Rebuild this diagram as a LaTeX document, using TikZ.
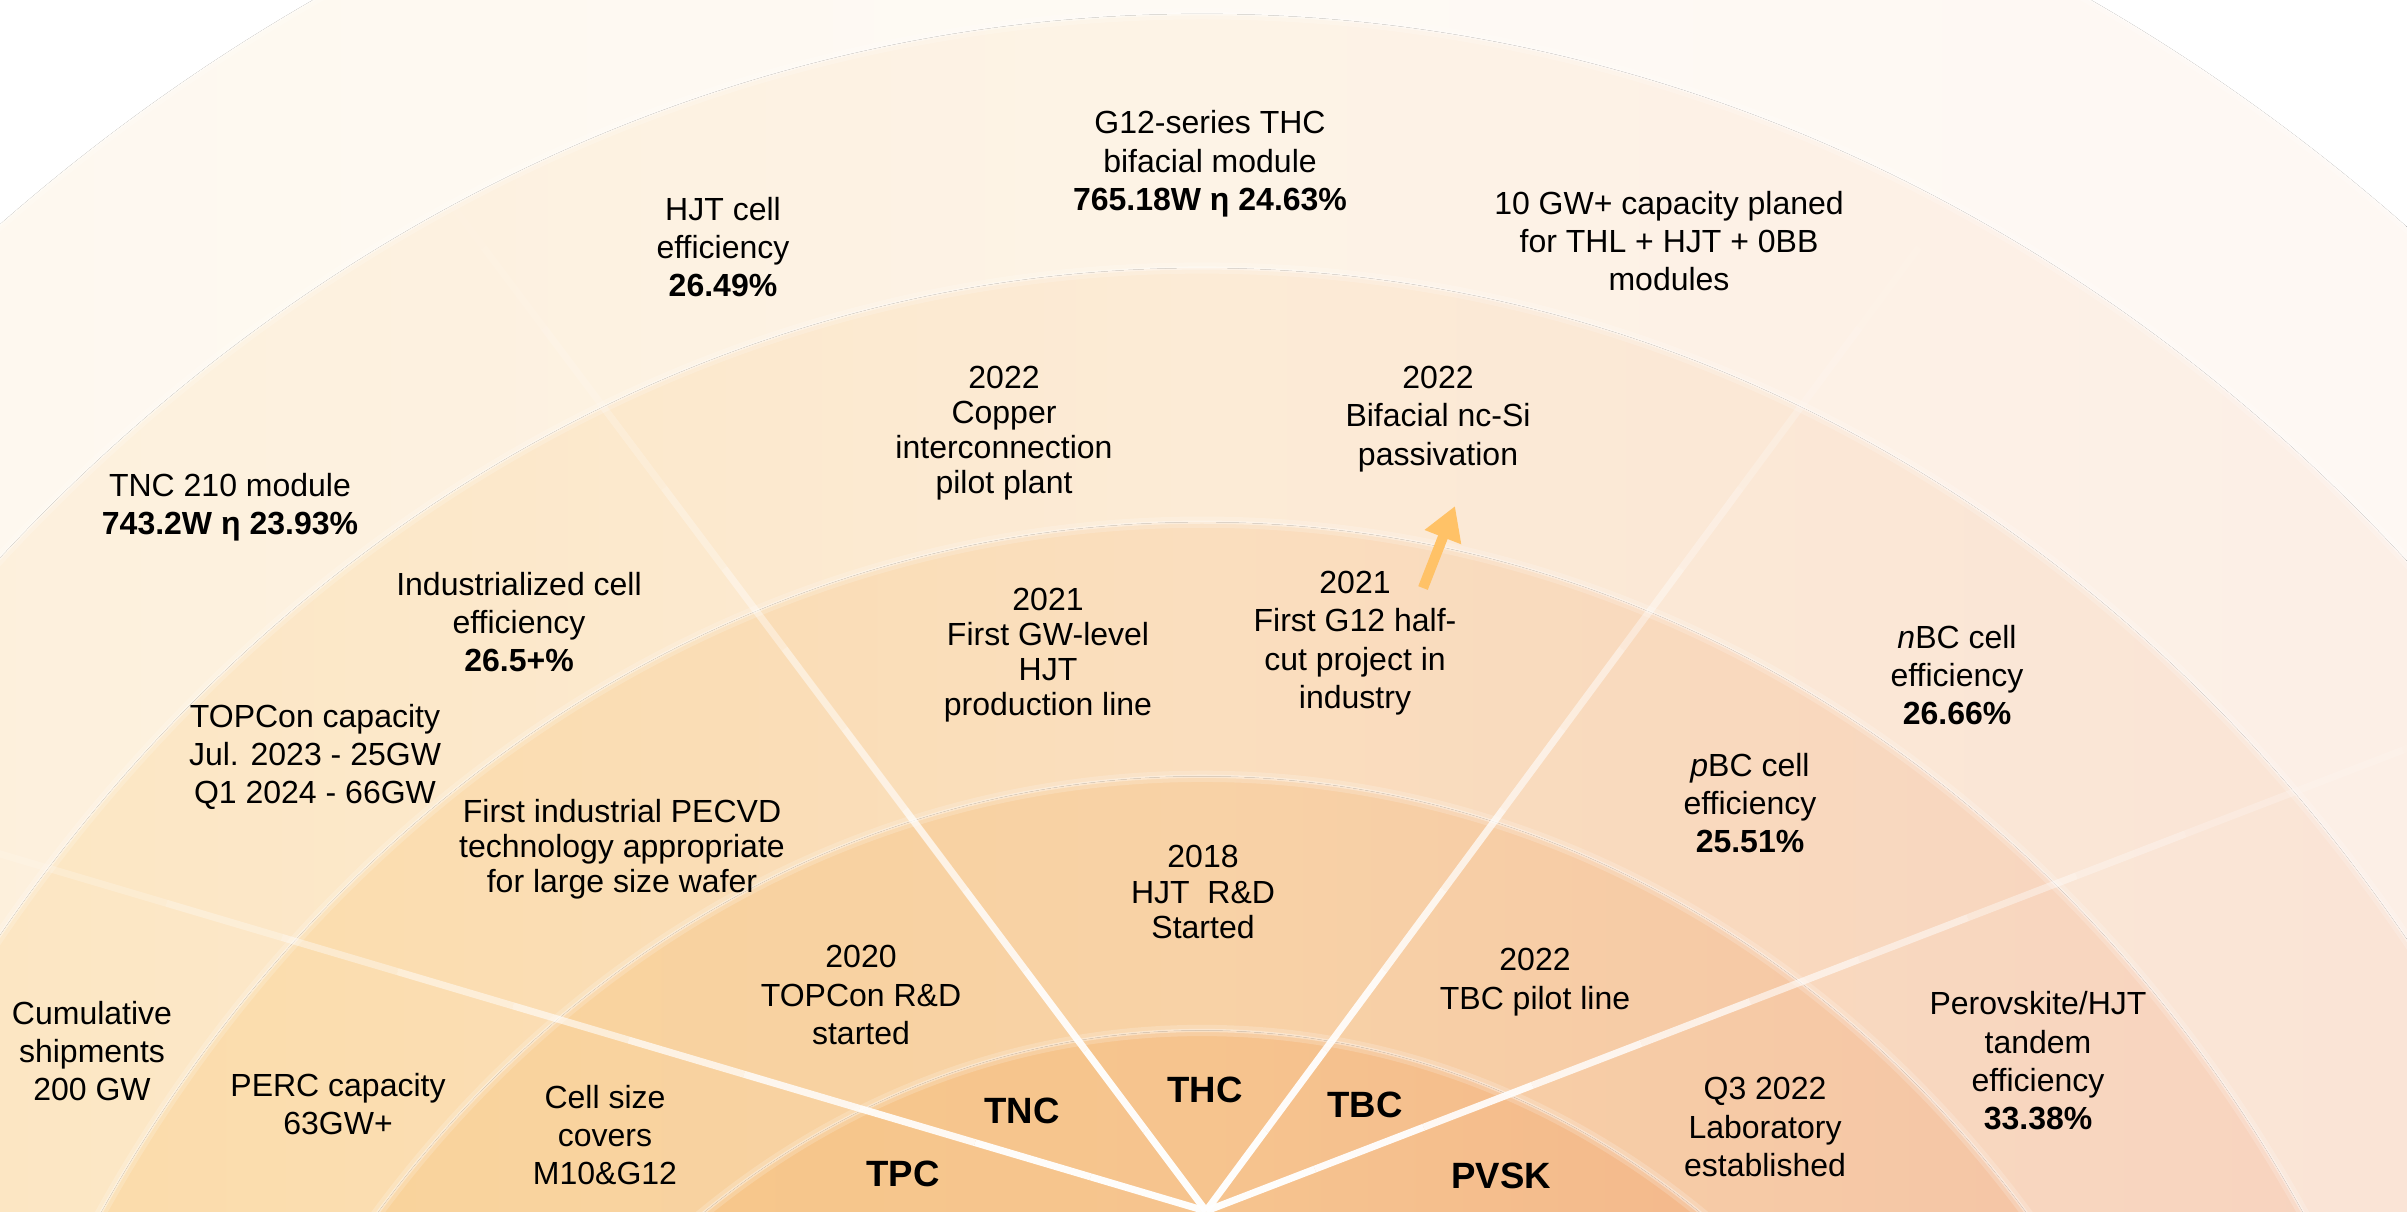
\documentclass[tikz,border=0pt]{standalone}
\usepackage{fontspec}
\setmainfont{Liberation Sans}
\usetikzlibrary{calc,arrows.meta}
\definecolor{c0l}{HTML}{FEF7EC}\definecolor{c0m}{HTML}{FEFAF4}\definecolor{c0r}{HTML}{FEF6F2}
\definecolor{c1l}{HTML}{FDEFD8}\definecolor{c1m}{HTML}{FDF3E6}\definecolor{c1r}{HTML}{FCEDE6}
\definecolor{c2l}{HTML}{FCE5BE}\definecolor{c2m}{HTML}{FCEBD6}\definecolor{c2r}{HTML}{F9E2D6}
\definecolor{c3l}{HTML}{FBDCA8}\definecolor{c3m}{HTML}{FADEBE}\definecolor{c3r}{HTML}{F7D2BF}
\definecolor{c4l}{HTML}{F9D399}\definecolor{c4m}{HTML}{F8D2A6}\definecolor{c4r}{HTML}{F4C2A6}
\definecolor{c5l}{HTML}{F7C98A}\definecolor{c5m}{HTML}{F6C48E}\definecolor{c5r}{HTML}{F2B28C}
\definecolor{arr}{HTML}{FFC267}
\begin{document}
\begin{tikzpicture}[x=0.01cm,y=-0.01cm,
  txt/.style={font=\fontsize{9.1}{10.9}\selectfont, align=center, inner sep=0pt, text=black},
  txtt/.style={font=\fontsize{9.1}{10}\selectfont, align=center, inner sep=0pt, text=black},
  lbl/.style={font=\fontsize{10.4}{12}\selectfont\bfseries, inner sep=0pt, text=black},
  glowa/.style={draw=white, opacity=0.18, line width=3.2pt},
  glowb/.style={draw=white, opacity=0.35, line width=0.9pt},
  ray/.style={white, line width=2pt}]
\useasboundingbox (0,0) rectangle (2407,1211);
\begin{scope}
\clip (0,0) rectangle (2407,1211);
\fill[white] (0,0) rectangle (2407,1211);
\fill[left color=c0l, right color=c0r, middle color=c0m] (1202,2000) ellipse [x radius=19.70cm, y radius=22.39cm];
\fill[left color=c1l, right color=c1r, middle color=c1m] (1202,2000) ellipse [x radius=17.47cm, y radius=19.85cm];
\fill[left color=c2l, right color=c2r, middle color=c2m] (1202,2000) ellipse [x radius=15.23cm, y radius=17.31cm];
\fill[left color=c3l, right color=c3r, middle color=c3m] (1202,2000) ellipse [x radius=13.00cm, y radius=14.77cm];
\fill[left color=c4l, right color=c4r, middle color=c4m] (1202,2000) ellipse [x radius=10.76cm, y radius=12.23cm];
\fill[left color=c5l, right color=c5r, middle color=c5m] (1202,2000) ellipse [x radius=8.53cm, y radius=9.69cm];
\foreach \ax/\by in {19.70/22.39,17.47/19.85,15.23/17.31,13.00/14.77,10.76/12.23,8.53/9.69}{
  \draw[glowa] (1202,2000) ellipse [x radius=\ax cm, y radius=\by cm];
  \draw[glowb] (1202,2000) ellipse [x radius=\ax cm, y radius=\by cm];
}
% radial lines
\coordinate (O) at (1206,1211);
\coordinate (R1) at (51,869);
\coordinate (R2) at (604,408);
\coordinate (R3) at (1800,408);
\coordinate (R4) at (2294,792);
\foreach \r in {R1,R2,R3,R4}{
  \foreach \a/\b/\op in {0/0.1/0.97,0.1/0.2/0.95,0.2/0.3/0.9,0.3/0.4/0.82,0.4/0.5/0.72,0.5/0.6/0.6,0.6/0.7/0.5,0.7/0.8/0.4,0.8/0.9/0.3,0.9/1.0/0.22,1.0/1.1/0.14,1.1/1.2/0.08,1.2/1.3/0.04}{
    \draw[ray, opacity=\op] ($(O)!\a!(\r)$) -- ($(O)!\b!(\r)$);
  }
}
\end{scope}
% arrow
\coordinate (arrS) at (1423,588);
\coordinate (arrE) at (1455,506);
\draw[arr, line width=2.9pt, -{Triangle[width=10.5pt,length=9.5pt]}] (arrS) -- (arrE);
% texts
\node[txt] (g12) at (1210,164) {G12-series THC\\bifacial module\\\textbf{765.18W η 24.63\%}};
\node[txt] (hjtcell) at (723,247) {HJT cell\\efficiency\\\textbf{26.49\%}};
\node[txt] (tengw) at (1669,241) {10 GW+ capacity planed\\for THL + HJT + 0BB\\modules};
\node[txtt] (copper) at (1004,433) {2022\\Copper\\interconnection\\pilot plant};
\node[txt] (ncsi) at (1438,419) {2022\\Bifacial nc-Si\\passivation};
\node[txt] (tnc210) at (230,507) {TNC 210 module\\\textbf{743.2W η 23.93\%}};
\node[txt] (indcell) at (519,622) {Industrialized cell\\efficiency\\\textbf{26.5+\%}};
\node[txtt] (gwlevel) at (1048,655) {2021\\First GW-level\\HJT\\production line};
\node[txt] (halfcut) at (1355,643) {2021\\First G12 half-\\cut project in\\industry};
\node[txt] (topcap) at (315,757) {TOPCon capacity\\Jul. 2023 - 25GW\\Q1 2024 - 66GW};
\node[txt] (nbc) at (1957,675) {\textit{n}BC cell\\efficiency\\\textbf{26.66\%}};
\node[txt] (pbc) at (1750,803) {\textit{p}BC cell\\efficiency\\\textbf{25.51\%}};
\node[txtt] (pecvd) at (622,849) {First industrial PECVD\\technology appropriate\\for large size wafer};
\node[txtt] (hjtrd) at (1203,892) {2018\\HJT\ \ R\&D\\Started};
\node[txt] (toprd) at (861,995) {2020\\TOPCon R\&D\\started};
\node[txt] (tbcpilot) at (1535,982) {2022\\TBC pilot line};
\node[txt] (cumul) at (92,1051) {Cumulative\\shipments\\200 GW};
\node[txt] (perc) at (338,1104) {PERC capacity\\63GW+};
\node[txt] (cellsize) at (605,1135) {Cell size\\covers\\M10\&G12};
\node[txt] (perov) at (2038,1061) {Perovskite/HJT\\tandem\\efficiency\\\textbf{33.38\%}};
\node[txt] (lab) at (1765,1127) {Q3 2022\\Laboratory\\established};
\node[lbl] (tpc) at (903,1174) {TPC};
\node[lbl] (tnc) at (1022,1111) {TNC};
\node[lbl] (thc) at (1205,1090) {THC};
\node[lbl] (tbc) at (1365,1105) {TBC};
\node[lbl] (pvsk) at (1501,1176) {PVSK};
\end{tikzpicture}
\end{document}
